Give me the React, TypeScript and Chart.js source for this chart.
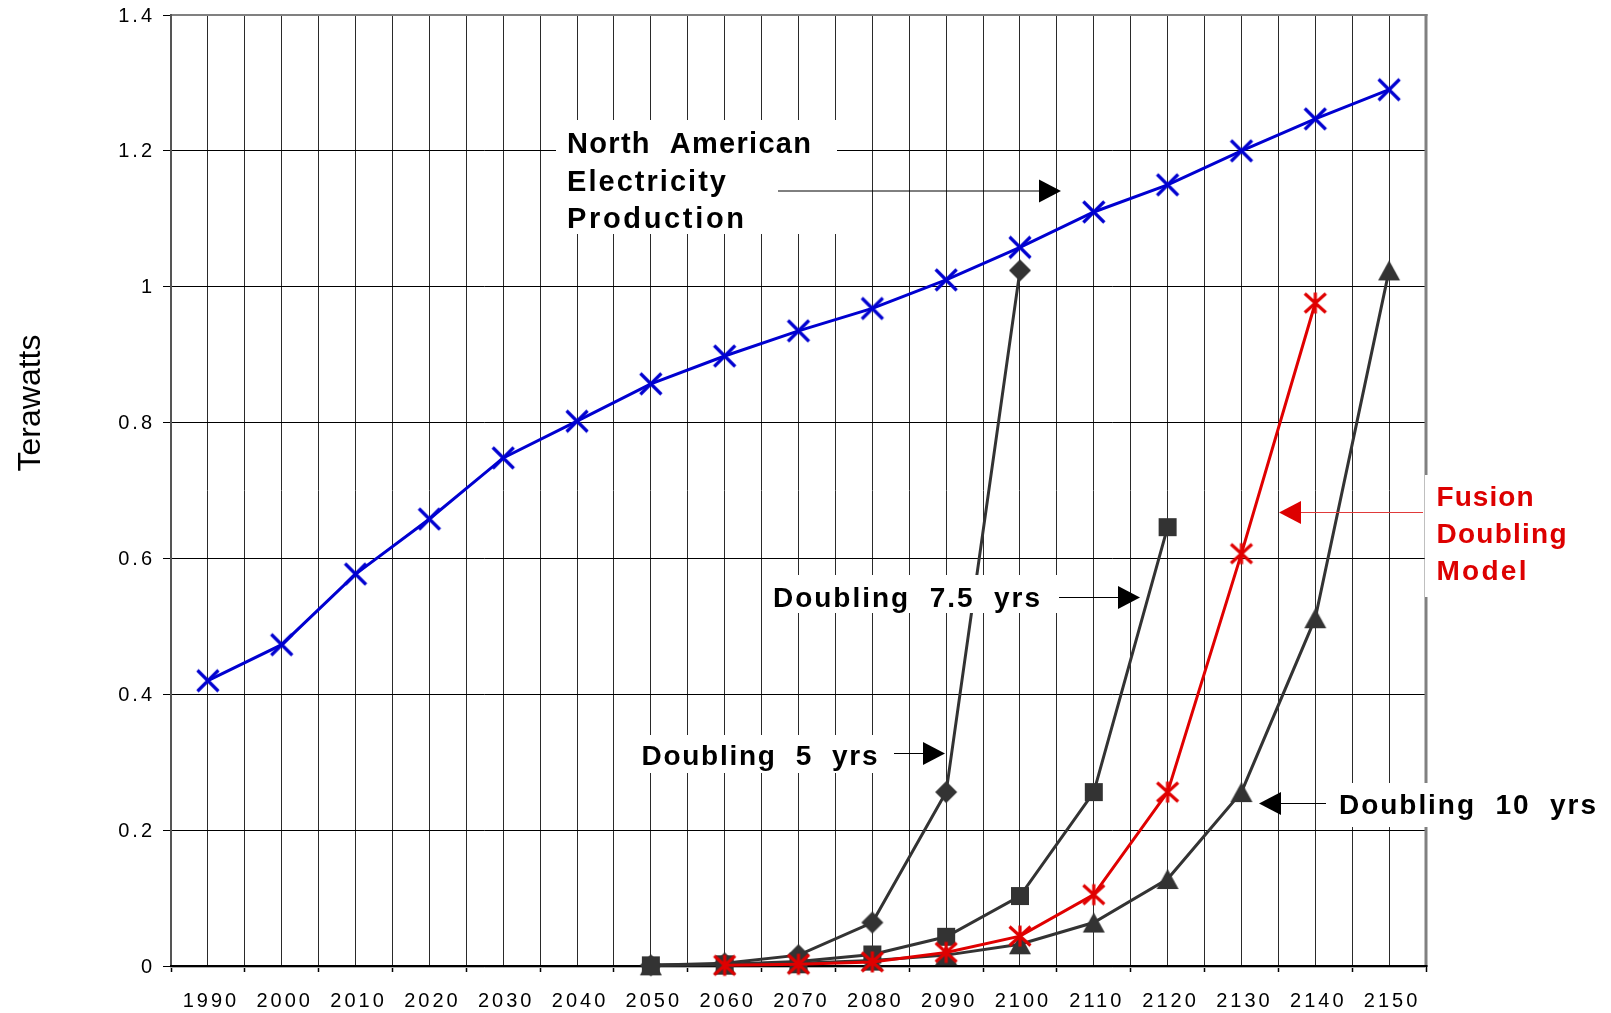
import { useEffect, useRef } from 'react';
import { Chart, registerables } from 'chart.js';

Chart.register(...registerables);

// Decades on the horizontal axis
const years = [1990, 2000, 2010, 2020, 2030, 2040, 2050, 2060, 2070, 2080, 2090, 2100, 2110, 2120, 2130, 2140, 2150];

// Terawatts per decade (null = no value for that decade)
const northAmerica = [0.42, 0.473, 0.577, 0.658, 0.748, 0.802, 0.857, 0.898, 0.935, 0.968, 1.01, 1.058, 1.11, 1.15, 1.2, 1.247, 1.29];
const doubling5 = [null, null, null, null, null, null, 0.001, 0.004, 0.016, 0.064, 0.256, 1.024, null, null, null, null, null];
const doubling75 = [null, null, null, null, null, null, 0.001, 0.0025, 0.0065, 0.017, 0.043, 0.103, 0.256, 0.646, null, null, null];
const doubling10 = [null, null, null, null, null, null, 0.001, 0.002, 0.004, 0.008, 0.016, 0.032, 0.064, 0.128, 0.256, 0.512, 1.024];
const fusion = [null, null, null, null, null, null, null, 0.001, 0.0025, 0.006, 0.02, 0.044, 0.105, 0.256, 0.607, 0.976, null];

// Vertical axis
const yTicks = [0, 0.2, 0.4, 0.6, 0.8, 1, 1.2, 1.4];
const yTickLabels = ['0', '0.2', '0.4', '0.6', '0.8', '1', '1.2', '1.4'];
const yTitle = 'Terawatts';

const FONT = '"Liberation Sans", Arial, Helvetica, sans-serif';
const BLUE = '#0000d0';
const GRAY = '#333333';
const RED = '#e00000';

const toPoints = (vals: (number | null)[]) =>
  years.map((yr, i) => ({ x: yr, y: vals[i] })).filter((p) => p.y !== null);

function makeMarker(kind: string, color: string): HTMLCanvasElement {
  const c = document.createElement('canvas');
  c.width = 26;
  c.height = 26;
  const g = c.getContext('2d')!;
  const m = 13;
  g.strokeStyle = color;
  g.fillStyle = color;
  g.lineCap = 'butt';
  if (kind === 'x') {
    g.lineWidth = 3.2;
    g.beginPath();
    g.moveTo(m - 10.5, m - 10.5);
    g.lineTo(m + 10.5, m + 10.5);
    g.moveTo(m + 10.5, m - 10.5);
    g.lineTo(m - 10.5, m + 10.5);
    g.stroke();
  } else if (kind === 'asterisk') {
    g.lineWidth = 3.2;
    g.beginPath();
    g.moveTo(m - 10.5, m - 9.5);
    g.lineTo(m + 10.5, m + 9.5);
    g.moveTo(m + 10.5, m - 9.5);
    g.lineTo(m - 10.5, m + 9.5);
    g.moveTo(m, m - 10.5);
    g.lineTo(m, m + 10.5);
    g.stroke();
  } else if (kind === 'diamond') {
    g.beginPath();
    g.moveTo(m, m - 11);
    g.lineTo(m + 11, m);
    g.lineTo(m, m + 11);
    g.lineTo(m - 11, m);
    g.closePath();
    g.fill();
  } else if (kind === 'square') {
    g.fillRect(m - 9, m - 9, 18, 18);
  } else if (kind === 'triangle') {
    g.beginPath();
    g.moveTo(m, m - 10);
    g.lineTo(m + 11, m + 10);
    g.lineTo(m - 11, m + 10);
    g.closePath();
    g.fill();
  }
  return c;
}

type Note = {
  box: [number, number, number, number];
  size: number;
  lines: { text: string; x: number; y: number; w: number }[];
  color: string;
  arrow: { x1: number; x2: number; y: number; color: string };
};

const notes: Note[] = [
  {
    box: [556, 120, 281, 114],
    size: 29,
    lines: [
      { text: 'North  American', x: 567, y: 153, w: 244 },
      { text: 'Electricity', x: 567, y: 190.5, w: 159 },
      { text: 'Production', x: 567, y: 228, w: 177 },
    ],
    color: '#000000',
    arrow: { x1: 778, x2: 1061, y: 191, color: '#000000' },
  },
  {
    box: [762, 575, 295, 38],
    size: 28,
    lines: [{ text: 'Doubling  7.5  yrs', x: 773, y: 606.5, w: 267 }],
    color: '#000000',
    arrow: { x1: 1059, x2: 1140, y: 597.5, color: '#000000' },
  },
  {
    box: [632, 735, 258, 38],
    size: 28,
    lines: [{ text: 'Doubling  5  yrs', x: 641.5, y: 765, w: 236 }],
    color: '#000000',
    arrow: { x1: 894, x2: 945, y: 753.5, color: '#000000' },
  },
  {
    box: [1327, 783, 284, 44],
    size: 28,
    lines: [{ text: 'Doubling  10  yrs', x: 1339, y: 813.5, w: 257 }],
    color: '#000000',
    arrow: { x1: 1326, x2: 1259, y: 803.5, color: '#000000' },
  },
  {
    box: [1425, 475, 186, 122],
    size: 28,
    lines: [
      { text: 'Fusion', x: 1436.5, y: 506, w: 97 },
      { text: 'Doubling', x: 1436.5, y: 543.3, w: 130 },
      { text: 'Model', x: 1436.5, y: 580, w: 90 },
    ],
    color: '#dd0000',
    arrow: { x1: 1423, x2: 1279, y: 512.5, color: '#e03a3a' },
  },
];

const framePlugin = {
  id: 'frame',
  beforeDraw(chart: any) {
    chart.ctx.letterSpacing = '3px';
  },
  beforeDatasetsDraw(chart: any) {
    const ctx = chart.ctx;
    ctx.letterSpacing = '0px';
    const { left, right, top, bottom } = chart.chartArea;
    ctx.save();
    ctx.lineCap = 'butt';
    ctx.strokeStyle = '#808080';
    ctx.lineWidth = 2;
    ctx.beginPath();
    ctx.moveTo(left, top);
    ctx.lineTo(right + 1.5, top);
    ctx.stroke();
    ctx.lineWidth = 3;
    ctx.beginPath();
    ctx.moveTo(right, top - 1);
    ctx.lineTo(right, bottom);
    ctx.stroke();
    ctx.strokeStyle = '#555555';
    ctx.lineWidth = 2;
    ctx.beginPath();
    ctx.moveTo(left, top - 1);
    ctx.lineTo(left, bottom);
    ctx.stroke();
    ctx.strokeStyle = '#000000';
    ctx.lineWidth = 2;
    ctx.beginPath();
    ctx.moveTo(left - 1, bottom);
    ctx.lineTo(right + 1.5, bottom);
    ctx.stroke();
    ctx.strokeStyle = '#b0b0b0';
    ctx.lineWidth = 1;
    ctx.beginPath();
    ctx.moveTo(left, bottom + 1.5);
    ctx.lineTo(right, bottom + 1.5);
    ctx.stroke();
    ctx.restore();
  },
};

const notesPlugin = {
  id: 'notes',
  afterDatasetsDraw(chart: any) {
    const ctx = chart.ctx;
    ctx.save();
    // axis title
    ctx.letterSpacing = '0px';
    ctx.font = `32px ${FONT}`;
    ctx.fillStyle = '#000000';
    ctx.textAlign = 'center';
    ctx.textBaseline = 'alphabetic';
    ctx.save();
    ctx.translate(40, 403);
    ctx.rotate(-Math.PI / 2);
    ctx.fillText(yTitle, 0, 0);
    ctx.restore();

    for (const n of notes) {
      const [bx, by, bw, bh] = n.box;
      ctx.fillStyle = '#ffffff';
      ctx.fillRect(bx, by, bw, bh);
      ctx.font = `bold ${n.size}px ${FONT}`;
      ctx.textAlign = 'left';
      for (const l of n.lines) {
        ctx.letterSpacing = '0px';
        const w0 = ctx.measureText(l.text).width;
        const count = Array.from(l.text).length;
        const sp = count > 1 ? (l.w - w0) / (count - 1) : 0;
        ctx.letterSpacing = `${sp}px`;
        ctx.fillStyle = n.color;
        ctx.fillText(l.text, l.x, l.y);
      }
      ctx.letterSpacing = '0px';
      const a = n.arrow;
      const dir = a.x2 > a.x1 ? 1 : -1;
      const head = 22;
      ctx.strokeStyle = a.color;
      ctx.lineWidth = 1;
      ctx.beginPath();
      ctx.moveTo(a.x1, a.y);
      ctx.lineTo(a.x2 - dir * head, a.y);
      ctx.stroke();
      ctx.fillStyle = n.color === '#000000' ? '#000000' : '#dd0000';
      ctx.beginPath();
      ctx.moveTo(a.x2, a.y);
      ctx.lineTo(a.x2 - dir * head, a.y - 11.5);
      ctx.lineTo(a.x2 - dir * head, a.y + 11.5);
      ctx.closePath();
      ctx.fill();
    }
    ctx.restore();
  },
};

export default function App() {
  const ref = useRef<HTMLCanvasElement | null>(null);

  useEffect(() => {
    if (!ref.current) return;
    Chart.defaults.font.family = FONT;
    const xMarker = makeMarker('x', BLUE);
    const starMarker = makeMarker('asterisk', RED);
    const diamond = makeMarker('diamond', GRAY);
    const square = makeMarker('square', GRAY);
    const triangle = makeMarker('triangle', GRAY);

    const line = (label: string, vals: (number | null)[], color: string, marker: HTMLCanvasElement, order: number) => ({
      label,
      data: toPoints(vals),
      borderColor: color,
      backgroundColor: color,
      borderWidth: 3,
      tension: 0,
      pointStyle: marker,
      pointRadius: 10,
      pointHoverRadius: 10,
      clip: false,
      order,
    });

    const chart = new Chart(ref.current, {
      type: 'line',
      data: {
        datasets: [
          line('Fusion Doubling Model', fusion, RED, starMarker, 0),
          line('North American Electricity Production', northAmerica, BLUE, xMarker, 1),
          line('Doubling 7.5 yrs', doubling75, GRAY, square, 2),
          line('Doubling 10 yrs', doubling10, GRAY, triangle, 3),
          line('Doubling 5 yrs', doubling5, GRAY, diamond, 4),
        ],
      },
      options: {
        animation: false,
        responsive: false,
        devicePixelRatio: 1,
        events: [],
        layout: { padding: { left: 0, top: 15, right: 185, bottom: 0 } },
        plugins: { legend: { display: false }, tooltip: { enabled: false } },
        scales: {
          x: {
            type: 'linear',
            min: years[0] - 5,
            max: years[years.length - 1] + 5,
            afterBuildTicks: (scale: any) => {
              const t: { value: number }[] = [];
              for (let v = years[0] - 5; v <= years[years.length - 1] + 5; v += 5) t.push({ value: v });
              scale.ticks = t;
            },
            afterFit: (scale: any) => {
              scale.height = 47;
              scale.paddingLeft = 0;
              scale.paddingRight = 0;
            },
            ticks: {
              autoSkip: false,
              maxRotation: 0,
              minRotation: 0,
              padding: 17,
              labelOffset: 3,
              color: '#000000',
              font: { size: 20 },
              callback: (v: any) => (years.includes(Number(v)) ? String(v) : ''),
            },
            grid: {
              color: '#2a2a2a',
              lineWidth: 1,
              drawTicks: true,
              tickLength: 6,
              tickWidth: 1.5,
              tickColor: (c: any) => (c.tick && !years.includes(c.tick.value) ? '#000000' : 'rgba(0,0,0,0)'),
            },
            border: { display: false },
          },
          y: {
            min: 0,
            max: 1.4,
            afterBuildTicks: (scale: any) => {
              scale.ticks = yTicks.map((v) => ({ value: v }));
            },
            afterFit: (scale: any) => {
              scale.width = 171;
              scale.paddingTop = 0;
              scale.paddingBottom = 0;
            },
            ticks: {
              padding: 8,
              labelOffset: 1,
              color: '#000000',
              font: { size: 20 },
              callback: (_v: any, i: number) => yTickLabels[i],
            },
            grid: {
              color: '#000000',
              lineWidth: 1,
              drawTicks: true,
              tickLength: 8,
              tickColor: '#000000',
            },
            border: { display: false },
          },
        },
      },
      plugins: [framePlugin, notesPlugin],
    } as any);

    return () => chart.destroy();
  }, []);

  return (
    <div style={{ position: 'absolute', left: 0, top: 0, width: 1611, height: 1013, background: '#ffffff' }}>
      <canvas ref={ref} width={1611} height={1013} style={{ display: 'block' }} />
    </div>
  );
}
